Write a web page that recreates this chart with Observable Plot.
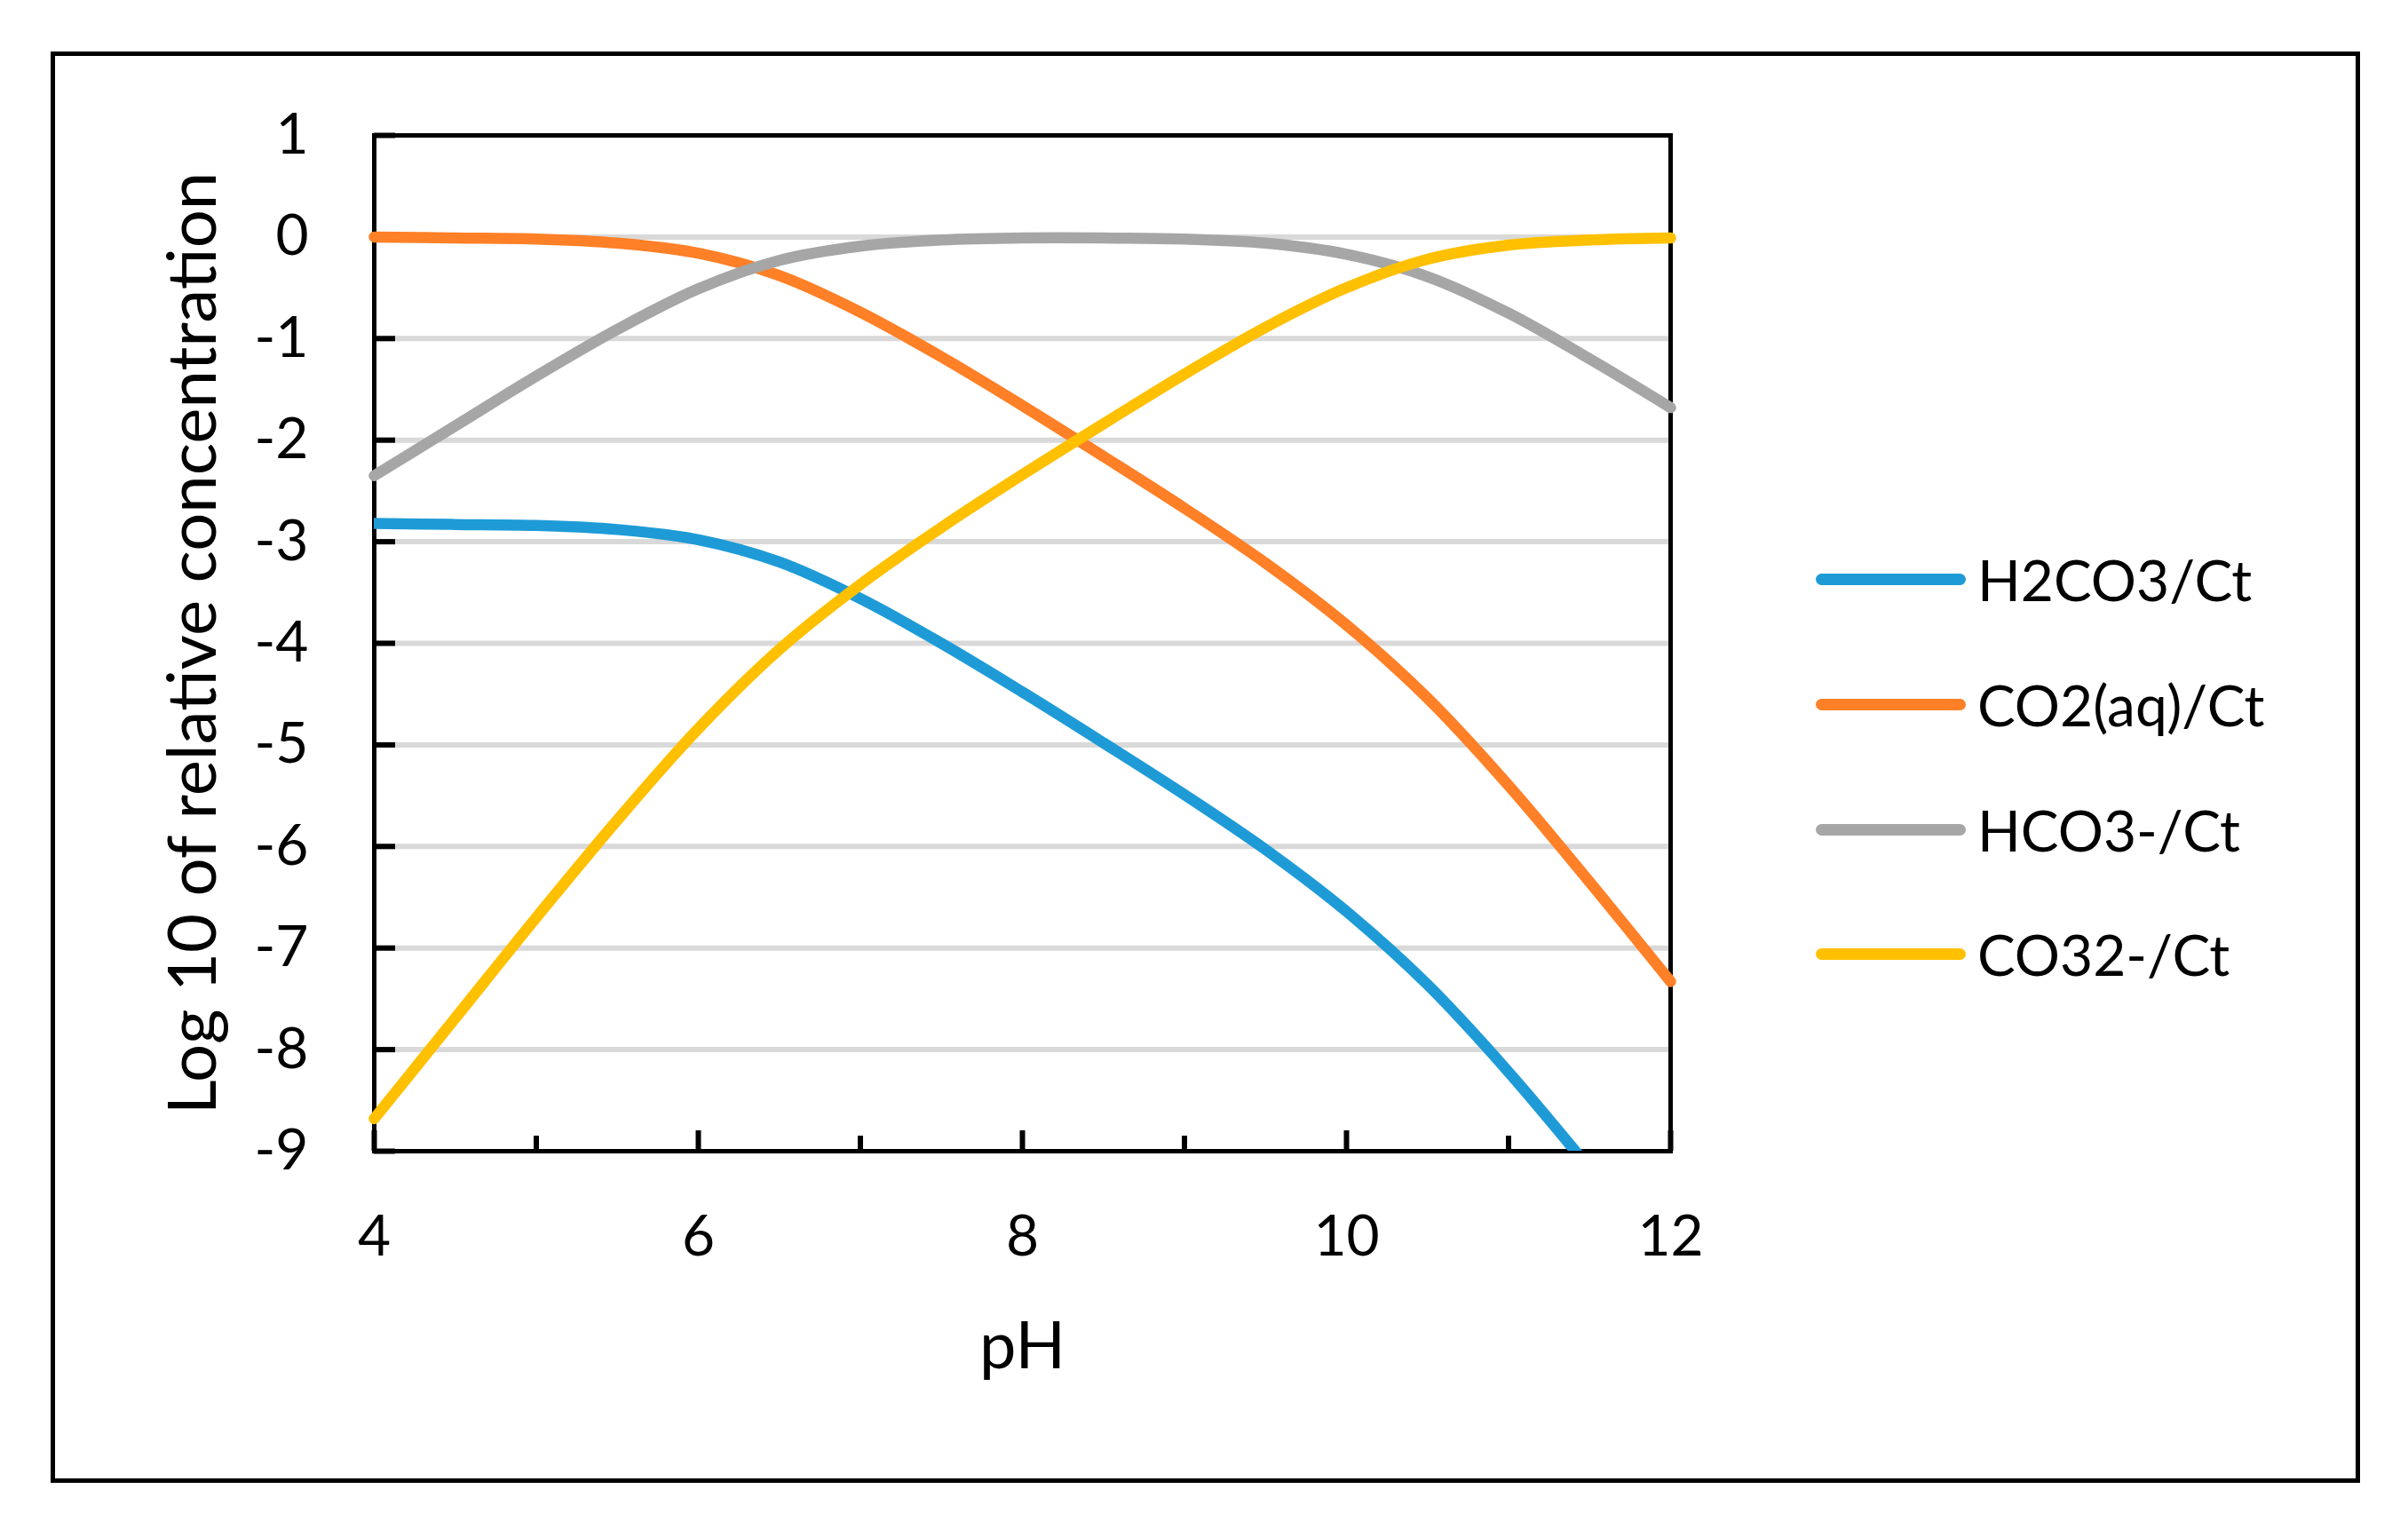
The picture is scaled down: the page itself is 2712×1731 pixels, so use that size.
<!DOCTYPE html>
<html>
<head>
<meta charset="utf-8">
<script src="https://cdn.jsdelivr.net/npm/d3@7"></script>
<script src="https://cdn.jsdelivr.net/npm/@observablehq/plot@0.6"></script>
<style>
html, body { margin: 0; padding: 0; background: #fff; }
#chart { position: relative; width: 2712px; height: 1731px; overflow: hidden; font-family: Lato, sans-serif; background: #fff; }
#border { position: absolute; left: 57px; top: 58px; width: 2601px; height: 1612px; border: 5px solid #000; box-sizing: border-box; pointer-events: none; }
.item { position: absolute; left: 2045px; height: 90px; display: flex; align-items: center; font-size: 64px; color: #000; white-space: nowrap; }
.sw { width: 169px; height: 13px; border-radius: 7px; margin-right: 13px; }
</style>
</head>
<body>
<div id="chart"><div id="border"></div></div>
<script>
// ---- data ----
const pH = [4, 4.5, 5, 5.5, 6, 6.5, 7, 7.5, 8, 8.5, 9, 9.5, 10, 10.5, 11, 11.5, 12];
const h2co3 = [-2.82, -2.83, -2.84, -2.88, -2.98, -3.20, -3.56, -4.00, -4.48, -4.98, -5.49, -6.03, -6.64, -7.36, -8.22, -9.17, null];
const co2aq = [0.00, -0.01, -0.02, -0.06, -0.16, -0.38, -0.74, -1.18, -1.66, -2.16, -2.67, -3.21, -3.82, -4.54, -5.40, -6.35, -7.33];
const hco3 = [-2.35, -1.86, -1.37, -0.91, -0.51, -0.23, -0.09, -0.03, -0.01, -0.01, -0.02, -0.06, -0.17, -0.39, -0.75, -1.20, -1.68];
const co32 = [-8.68, -7.69, -6.70, -5.74, -4.84, -4.06, -3.42, -2.86, -2.34, -1.84, -1.35, -0.89, -0.50, -0.22, -0.08, -0.03, -0.01];

const seriesNames = ["H2CO3/Ct", "CO2(aq)/Ct", "HCO3-/Ct", "CO32-/Ct"];
const seriesColors = ["#1E9BD7", "#FF8027", "#A6A6A6", "#FFC000"];
const seriesValues = [h2co3, co2aq, hco3, co32];

const xMajorTicks = [4, 6, 8, 10, 12];
const xMinorTicks = [5, 7, 9, 11];
const yTicks = [1, 0, -1, -2, -3, -4, -5, -6, -7, -8, -9];
const yGrid = [0, -1, -2, -3, -4, -5, -6, -7, -8];
const xTitle = "pH";
const yTitle = "Log 10 of relative concentration";

// ---- layout ----
const W = 2712, H = 1731;
const mL = 421, mR = 831, mT = 152, mB = 435;
const frameW = W - mL - mR, frameH = H - mT - mB;

const rows = [];
seriesNames.forEach((name, i) => {
  seriesValues[i].forEach((v, j) => {
    if (v != null) rows.push({series: name, pH: pH[j], value: v});
  });
});

const chart = Plot.plot({
  width: W,
  height: H,
  marginLeft: mL, marginRight: mR, marginTop: mT, marginBottom: mB,
  x: {domain: [4, 12]},
  y: {domain: [-9, 1]},
  color: {domain: seriesNames, range: seriesColors},
  style: {fontFamily: "Lato, sans-serif", fontSize: "64px", color: "#000", background: "transparent", overflow: "visible"},
  marks: [
    Plot.ruleY(yGrid, {y: d => d, stroke: "#d9d9d9", strokeWidth: 6}),
    Plot.tickY(yTicks, {y: d => d, stroke: "#000", strokeWidth: 6, insetRight: frameW - 24}),
    Plot.tickX(xMajorTicks, {x: d => d, stroke: "#000", strokeWidth: 6, insetTop: frameH - 23}),
    Plot.tickX(xMinorTicks, {x: d => d, stroke: "#000", strokeWidth: 6, insetTop: frameH - 17}),
    Plot.frame({stroke: "#000", strokeWidth: 5}),
    Plot.axisX({ticks: xMajorTicks, tickSize: 0, tickPadding: 72, tickFormat: d => String(d), fontSize: 64, label: null}),
    Plot.axisY({ticks: yTicks, tickSize: 0, tickPadding: 74, tickFormat: d => String(d), fontSize: 64, label: null}),
    Plot.text([yTitle], {text: d => d, frameAnchor: "left", textAnchor: "middle", rotate: -90, dx: -232, lineAnchor: "top", fontSize: 76, fill: "#000"}),
    Plot.text([xTitle], {text: d => d, frameAnchor: "bottom", textAnchor: "middle", dy: 192, lineAnchor: "top", fontSize: 74, fill: "#000"}),
    ...seriesNames.map((name, i) => Plot.line(rows.filter(r => r.series === name), {
      x: "pH", y: "value", stroke: "series",
      strokeWidth: 12.5, curve: "catmull-rom",
      strokeLinecap: "round", strokeLinejoin: "round",
      clip: i === 0
    }))
  ]
});
chart.style.position = "absolute";
chart.style.left = "0px";
chart.style.top = "0px";
const host = document.getElementById("chart");
host.insertBefore(chart, host.firstChild);

// ---- legend (HTML) ----
const legendCenters = [652, 793, 934, 1074];
seriesNames.forEach((name, i) => {
  const item = document.createElement("div");
  item.className = "item";
  item.style.top = (legendCenters[i] - 45) + "px";
  const sw = document.createElement("div");
  sw.className = "sw";
  sw.style.background = seriesColors[i];
  const label = document.createElement("span");
  label.textContent = name;
  item.appendChild(sw);
  item.appendChild(label);
  host.appendChild(item);
});
</script>
</body>
</html>
